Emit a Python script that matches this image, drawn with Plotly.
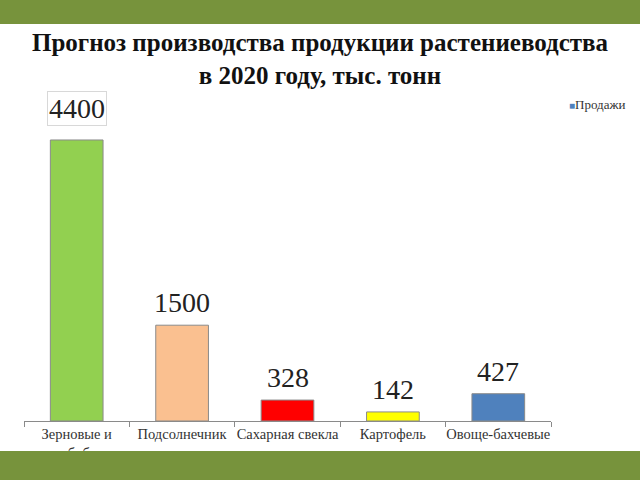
import plotly.graph_objects as go

categories = ["Зерновые и<br>зернобобовые", "Подсолнечник", "Сахарная свекла", "Картофель", "Овоще-бахчевые"]
values = [4400, 1500, 328, 142, 427]
colors = ["#92D050", "#FAC090", "#FF0000", "#FFFF00", "#4F81BD"]
labels = ["4400", "1500", "328", "142", "427"]
series_name = "Продажи"
title_text = "<b>Прогноз производства продукции растениеводства<br>в 2020 году, тыс. тонн</b>"

fig = go.Figure()
fig.add_trace(go.Bar(
    x=categories, y=values, marker=dict(color=colors, line=dict(color="#8a8a8a", width=1)),
    width=0.5, name=series_name, showlegend=False,
))

for i, (c, v, t) in enumerate(zip(categories, values, labels)):
    fig.add_annotation(
        x=c, y=v, text=t, showarrow=False, yanchor="bottom",
        yshift=(14 if i == 0 else 5),
        font=dict(family="Liberation Serif", size=28, color="#222222"),
        bordercolor="#d8d8d8" if i == 0 else "rgba(0,0,0,0)", borderwidth=1, borderpad=1,
    )

fig.add_annotation(
    xref="paper", yref="paper", x=1.03, y=1.0, xanchor="left", yanchor="top",
    text="<span style='color:#4F81BD;font-size:10px'>■</span>" + series_name,
    showarrow=False, font=dict(family="Liberation Serif", size=13, color="#333333"),
)

# decorative bands
fig.add_shape(type="rect", xref="paper", yref="paper", x0=-0.1, x1=1.2, y0=1.218, y1=1.5,
              fillcolor="#77933C", line=dict(width=0), layer="above")
fig.add_shape(type="rect", xref="paper", yref="paper", x0=-0.1, x1=1.2, y0=-0.3, y1=-0.092,
              fillcolor="#77933C", line=dict(width=0), layer="above")

fig.update_layout(
    width=640, height=480,
    margin=dict(l=24, r=89, t=95, b=59, autoexpand=False),
    paper_bgcolor="white", plot_bgcolor="white",
    title=dict(text=title_text, x=0.5, xref="container", xanchor="center", y=0.893, yanchor="middle",
               font=dict(family="Liberation Serif", size=25, color="#111111")),
    xaxis=dict(showline=True, linecolor="#8a8a8a", linewidth=1, ticks="outside", ticklen=5,
               tickcolor="#8a8a8a", tickson="boundaries", tickangle=0, automargin=False,
               tickfont=dict(family="Liberation Serif", size=14.5, color="#333333"),
               showgrid=False),
    yaxis=dict(visible=False, range=[0, 5104]),
    bargap=0.5,
)

fig.write_html("out.html")
